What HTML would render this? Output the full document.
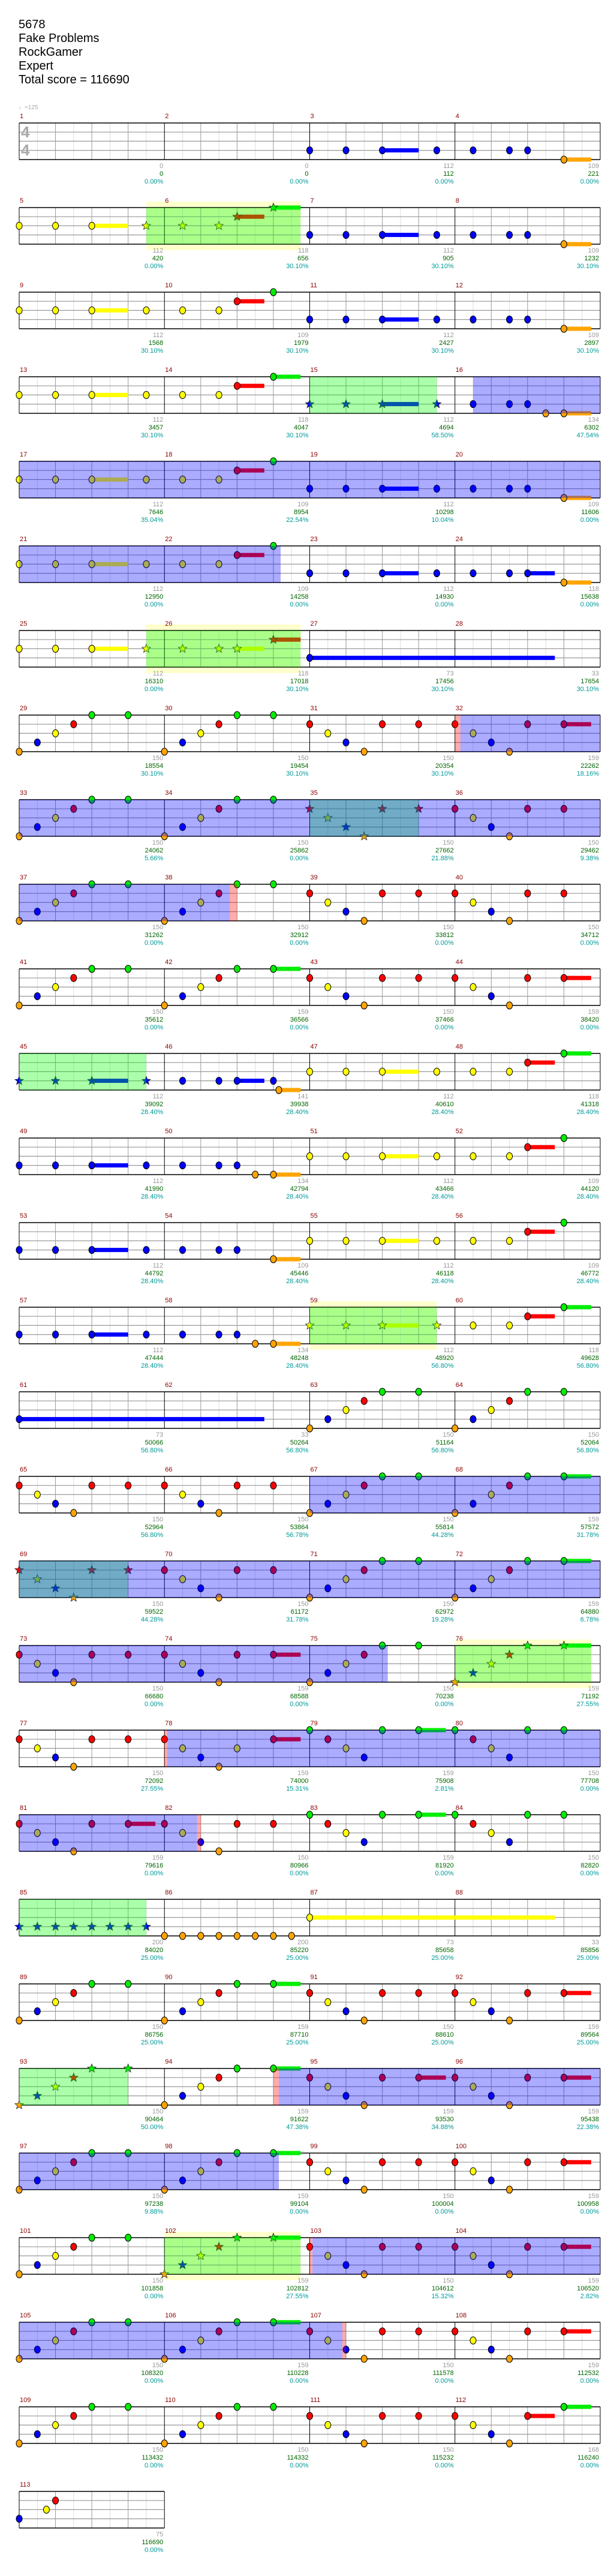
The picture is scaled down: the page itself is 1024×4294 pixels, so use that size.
<!DOCTYPE html>
<html><head><meta charset="utf-8">
<style>
html,body{margin:0;padding:0;background:#fff;}
body{width:1024px;height:4294px;position:relative;overflow:hidden;font-family:"Liberation Sans",sans-serif;}
#g{position:absolute;left:0;top:0;}
.t{position:absolute;left:31px;top:30px;font-size:20px;line-height:23px;color:#000;}
.tempo{position:absolute;left:31px;top:174px;font-size:10px;color:#aaa;}
.ts{position:absolute;left:35px;font-size:26px;line-height:26px;color:#aaa;font-weight:bold;}
.r{position:absolute;left:32px;width:969px;display:flex;font-size:11px;}
.c{width:242.25px;flex:none;position:relative;height:130px;}
.c b{position:absolute;left:1px;top:3px;line-height:12px;font-weight:normal;color:#8b0000;}
.c p{position:absolute;right:2px;top:86px;margin:0;text-align:right;line-height:13px;color:#999;white-space:nowrap;}
.c i{font-style:normal;color:#006400;}
.c u{text-decoration:none;color:#009999;}
</style></head><body>
<svg id="g" width="1024" height="4294" xmlns="http://www.w3.org/2000/svg"></svg>
<div class="t">5678<br>Fake Problems<br>RockGamer<br>Expert<br>Total score = 116690</div>
<div class="tempo">&#9833;=125</div>
<div class="ts" style="top:207px">4</div>
<div class="ts" style="top:237px">4</div>

<div class="r" style="top:185px"><div class="c"><b>1</b><p>0<br><i>0</i><br><u>0.00%</u></p></div><div class="c"><b>2</b><p>0<br><i>0</i><br><u>0.00%</u></p></div><div class="c"><b>3</b><p>112<br><i>112</i><br><u>0.00%</u></p></div><div class="c"><b>4</b><p>109<br><i>221</i><br><u>0.00%</u></p></div></div>
<div class="r" style="top:326px"><div class="c"><b>5</b><p>112<br><i>420</i><br><u>0.00%</u></p></div><div class="c"><b>6</b><p>118<br><i>656</i><br><u>30.10%</u></p></div><div class="c"><b>7</b><p>112<br><i>905</i><br><u>30.10%</u></p></div><div class="c"><b>8</b><p>109<br><i>1232</i><br><u>30.10%</u></p></div></div>
<div class="r" style="top:467px"><div class="c"><b>9</b><p>112<br><i>1568</i><br><u>30.10%</u></p></div><div class="c"><b>10</b><p>109<br><i>1979</i><br><u>30.10%</u></p></div><div class="c"><b>11</b><p>112<br><i>2427</i><br><u>30.10%</u></p></div><div class="c"><b>12</b><p>109<br><i>2897</i><br><u>30.10%</u></p></div></div>
<div class="r" style="top:608px"><div class="c"><b>13</b><p>112<br><i>3457</i><br><u>30.10%</u></p></div><div class="c"><b>14</b><p>118<br><i>4047</i><br><u>30.10%</u></p></div><div class="c"><b>15</b><p>112<br><i>4694</i><br><u>58.50%</u></p></div><div class="c"><b>16</b><p>134<br><i>6302</i><br><u>47.54%</u></p></div></div>
<div class="r" style="top:749px"><div class="c"><b>17</b><p>112<br><i>7646</i><br><u>35.04%</u></p></div><div class="c"><b>18</b><p>109<br><i>8954</i><br><u>22.54%</u></p></div><div class="c"><b>19</b><p>112<br><i>10298</i><br><u>10.04%</u></p></div><div class="c"><b>20</b><p>109<br><i>11606</i><br><u>0.00%</u></p></div></div>
<div class="r" style="top:890px"><div class="c"><b>21</b><p>112<br><i>12950</i><br><u>0.00%</u></p></div><div class="c"><b>22</b><p>109<br><i>14258</i><br><u>0.00%</u></p></div><div class="c"><b>23</b><p>112<br><i>14930</i><br><u>0.00%</u></p></div><div class="c"><b>24</b><p>118<br><i>15638</i><br><u>0.00%</u></p></div></div>
<div class="r" style="top:1031px"><div class="c"><b>25</b><p>112<br><i>16310</i><br><u>0.00%</u></p></div><div class="c"><b>26</b><p>118<br><i>17018</i><br><u>30.10%</u></p></div><div class="c"><b>27</b><p>73<br><i>17456</i><br><u>30.10%</u></p></div><div class="c"><b>28</b><p>33<br><i>17654</i><br><u>30.10%</u></p></div></div>
<div class="r" style="top:1172px"><div class="c"><b>29</b><p>150<br><i>18554</i><br><u>30.10%</u></p></div><div class="c"><b>30</b><p>150<br><i>19454</i><br><u>30.10%</u></p></div><div class="c"><b>31</b><p>150<br><i>20354</i><br><u>30.10%</u></p></div><div class="c"><b>32</b><p>159<br><i>22262</i><br><u>18.16%</u></p></div></div>
<div class="r" style="top:1313px"><div class="c"><b>33</b><p>150<br><i>24062</i><br><u>5.66%</u></p></div><div class="c"><b>34</b><p>150<br><i>25862</i><br><u>0.00%</u></p></div><div class="c"><b>35</b><p>150<br><i>27662</i><br><u>21.88%</u></p></div><div class="c"><b>36</b><p>150<br><i>29462</i><br><u>9.38%</u></p></div></div>
<div class="r" style="top:1454px"><div class="c"><b>37</b><p>150<br><i>31262</i><br><u>0.00%</u></p></div><div class="c"><b>38</b><p>150<br><i>32912</i><br><u>0.00%</u></p></div><div class="c"><b>39</b><p>150<br><i>33812</i><br><u>0.00%</u></p></div><div class="c"><b>40</b><p>150<br><i>34712</i><br><u>0.00%</u></p></div></div>
<div class="r" style="top:1595px"><div class="c"><b>41</b><p>150<br><i>35612</i><br><u>0.00%</u></p></div><div class="c"><b>42</b><p>159<br><i>36566</i><br><u>0.00%</u></p></div><div class="c"><b>43</b><p>150<br><i>37466</i><br><u>0.00%</u></p></div><div class="c"><b>44</b><p>159<br><i>38420</i><br><u>0.00%</u></p></div></div>
<div class="r" style="top:1736px"><div class="c"><b>45</b><p>112<br><i>39092</i><br><u>28.40%</u></p></div><div class="c"><b>46</b><p>141<br><i>39938</i><br><u>28.40%</u></p></div><div class="c"><b>47</b><p>112<br><i>40610</i><br><u>28.40%</u></p></div><div class="c"><b>48</b><p>118<br><i>41318</i><br><u>28.40%</u></p></div></div>
<div class="r" style="top:1877px"><div class="c"><b>49</b><p>112<br><i>41990</i><br><u>28.40%</u></p></div><div class="c"><b>50</b><p>134<br><i>42794</i><br><u>28.40%</u></p></div><div class="c"><b>51</b><p>112<br><i>43466</i><br><u>28.40%</u></p></div><div class="c"><b>52</b><p>109<br><i>44120</i><br><u>28.40%</u></p></div></div>
<div class="r" style="top:2018px"><div class="c"><b>53</b><p>112<br><i>44792</i><br><u>28.40%</u></p></div><div class="c"><b>54</b><p>109<br><i>45446</i><br><u>28.40%</u></p></div><div class="c"><b>55</b><p>112<br><i>46118</i><br><u>28.40%</u></p></div><div class="c"><b>56</b><p>109<br><i>46772</i><br><u>28.40%</u></p></div></div>
<div class="r" style="top:2159px"><div class="c"><b>57</b><p>112<br><i>47444</i><br><u>28.40%</u></p></div><div class="c"><b>58</b><p>134<br><i>48248</i><br><u>28.40%</u></p></div><div class="c"><b>59</b><p>112<br><i>48920</i><br><u>56.80%</u></p></div><div class="c"><b>60</b><p>118<br><i>49628</i><br><u>56.80%</u></p></div></div>
<div class="r" style="top:2300px"><div class="c"><b>61</b><p>73<br><i>50066</i><br><u>56.80%</u></p></div><div class="c"><b>62</b><p>33<br><i>50264</i><br><u>56.80%</u></p></div><div class="c"><b>63</b><p>150<br><i>51164</i><br><u>56.80%</u></p></div><div class="c"><b>64</b><p>150<br><i>52064</i><br><u>56.80%</u></p></div></div>
<div class="r" style="top:2441px"><div class="c"><b>65</b><p>150<br><i>52964</i><br><u>56.80%</u></p></div><div class="c"><b>66</b><p>150<br><i>53864</i><br><u>56.78%</u></p></div><div class="c"><b>67</b><p>150<br><i>55814</i><br><u>44.28%</u></p></div><div class="c"><b>68</b><p>159<br><i>57572</i><br><u>31.78%</u></p></div></div>
<div class="r" style="top:2582px"><div class="c"><b>69</b><p>150<br><i>59522</i><br><u>44.28%</u></p></div><div class="c"><b>70</b><p>150<br><i>61172</i><br><u>31.78%</u></p></div><div class="c"><b>71</b><p>150<br><i>62972</i><br><u>19.28%</u></p></div><div class="c"><b>72</b><p>159<br><i>64880</i><br><u>6.78%</u></p></div></div>
<div class="r" style="top:2723px"><div class="c"><b>73</b><p>150<br><i>66680</i><br><u>0.00%</u></p></div><div class="c"><b>74</b><p>159<br><i>68588</i><br><u>0.00%</u></p></div><div class="c"><b>75</b><p>150<br><i>70238</i><br><u>0.00%</u></p></div><div class="c"><b>76</b><p>159<br><i>71192</i><br><u>27.55%</u></p></div></div>
<div class="r" style="top:2864px"><div class="c"><b>77</b><p>150<br><i>72092</i><br><u>27.55%</u></p></div><div class="c"><b>78</b><p>159<br><i>74000</i><br><u>15.31%</u></p></div><div class="c"><b>79</b><p>159<br><i>75908</i><br><u>2.81%</u></p></div><div class="c"><b>80</b><p>150<br><i>77708</i><br><u>0.00%</u></p></div></div>
<div class="r" style="top:3005px"><div class="c"><b>81</b><p>159<br><i>79616</i><br><u>0.00%</u></p></div><div class="c"><b>82</b><p>150<br><i>80966</i><br><u>0.00%</u></p></div><div class="c"><b>83</b><p>159<br><i>81920</i><br><u>0.00%</u></p></div><div class="c"><b>84</b><p>150<br><i>82820</i><br><u>0.00%</u></p></div></div>
<div class="r" style="top:3146px"><div class="c"><b>85</b><p>200<br><i>84020</i><br><u>25.00%</u></p></div><div class="c"><b>86</b><p>200<br><i>85220</i><br><u>25.00%</u></p></div><div class="c"><b>87</b><p>73<br><i>85658</i><br><u>25.00%</u></p></div><div class="c"><b>88</b><p>33<br><i>85856</i><br><u>25.00%</u></p></div></div>
<div class="r" style="top:3287px"><div class="c"><b>89</b><p>150<br><i>86756</i><br><u>25.00%</u></p></div><div class="c"><b>90</b><p>159<br><i>87710</i><br><u>25.00%</u></p></div><div class="c"><b>91</b><p>150<br><i>88610</i><br><u>25.00%</u></p></div><div class="c"><b>92</b><p>159<br><i>89564</i><br><u>25.00%</u></p></div></div>
<div class="r" style="top:3428px"><div class="c"><b>93</b><p>150<br><i>90464</i><br><u>50.00%</u></p></div><div class="c"><b>94</b><p>159<br><i>91622</i><br><u>47.38%</u></p></div><div class="c"><b>95</b><p>159<br><i>93530</i><br><u>34.88%</u></p></div><div class="c"><b>96</b><p>159<br><i>95438</i><br><u>22.38%</u></p></div></div>
<div class="r" style="top:3569px"><div class="c"><b>97</b><p>150<br><i>97238</i><br><u>9.88%</u></p></div><div class="c"><b>98</b><p>159<br><i>99104</i><br><u>0.00%</u></p></div><div class="c"><b>99</b><p>150<br><i>100004</i><br><u>0.00%</u></p></div><div class="c"><b>100</b><p>159<br><i>100958</i><br><u>0.00%</u></p></div></div>
<div class="r" style="top:3710px"><div class="c"><b>101</b><p>150<br><i>101858</i><br><u>0.00%</u></p></div><div class="c"><b>102</b><p>159<br><i>102812</i><br><u>27.55%</u></p></div><div class="c"><b>103</b><p>150<br><i>104612</i><br><u>15.32%</u></p></div><div class="c"><b>104</b><p>159<br><i>106520</i><br><u>2.82%</u></p></div></div>
<div class="r" style="top:3851px"><div class="c"><b>105</b><p>150<br><i>108320</i><br><u>0.00%</u></p></div><div class="c"><b>106</b><p>159<br><i>110228</i><br><u>0.00%</u></p></div><div class="c"><b>107</b><p>150<br><i>111578</i><br><u>0.00%</u></p></div><div class="c"><b>108</b><p>159<br><i>112532</i><br><u>0.00%</u></p></div></div>
<div class="r" style="top:3992px"><div class="c"><b>109</b><p>150<br><i>113432</i><br><u>0.00%</u></p></div><div class="c"><b>110</b><p>150<br><i>114332</i><br><u>0.00%</u></p></div><div class="c"><b>111</b><p>150<br><i>115232</i><br><u>0.00%</u></p></div><div class="c"><b>112</b><p>168<br><i>116240</i><br><u>0.00%</u></p></div></div>
<div class="r" style="top:4133px"><div class="c"><b>113</b><p>75<br><i>116690</i><br><u>0.00%</u></p></div></div>

<script>
(function(){
var S="o0 b1 y2 r3 g4 g6 o8 b9 y10 r11 g12 ";
var D=[
[4,"b16 b18 b20-22 b23 b25 b27 b28 o30-31.5",""],
[4,"y0 y2 y4-6 y7* y9* y11* r12*-13.5 g14*-15.5 b16 b18 b20-22 b23 b25 b27 b28 o30-31.5","P7-15.5 G7-15.5"],
[4,"y0 y2 y4-6 y7 y9 y11 r12-13.5 g14 b16 b18 b20-22 b23 b25 b27 b28 o30-31.5",""],
[4,"y0 y2 y4-6 y7 y9 y11 r12-13.5 g14-15.5 b16* b18* b20*-22 b23* b25 b27 b28 o29 o30-31.5","G16-23 B25-32"],
[4,"y0 y2 y4-6 y7 y9 y11 r12-13.5 g14 b16 b18 b20-22 b23 b25 b27 b28 o30-31.5","B0-32"],
[4,"y0 y2 y4-6 y7 y9 y11 r12-13.5 g14 b16 b18 b20-22 b23 b25 b27 b28-29.5 o30-31.5","B0-14.4"],
[4,"y0 y2 y4-6 y7* y9* y11* y12*-13.5 r14*-15.5 b16-29.5","P7-15.5 G7-15.5"],
[4,S+"g14 r16 y17 b18 o19 r20 r22 r24 y25 b26 o27 r28 r30-31.5","K24-24.3 B24.3-32"],
[4,S+"g14 r16* y17* b18* o19* r20* r22* r24 y25 b26 o27 r28 r30","G16-22 B0-32"],
[4,S+"g14 r16 y17 b18 o19 r20 r22 r24 y25 b26 o27 r28 r30","B0-11.6 K11.6-12"],
[4,S+"g14-15.5 r16 y17 b18 o19 r20 r22 r24 y25 b26 o27 r28 r30-31.5",""],
[4,"b0* b2* b4*-6 b7* b9 b11 b12-13.5 b14 o14.3-15.5 y16 y18 y20-22 y23 y25 y27 r28-29.5 g30-31.5","G0-7"],
[4,"b0 b2 b4-6 b7 b9 b11 b12 o13 o14-15.5 y16 y18 y20-22 y23 y25 y27 r28-29.5 g30",""],
[4,"b0 b2 b4-6 b7 b9 b11 b12 o14-15.5 y16 y18 y20-22 y23 y25 y27 r28-29.5 g30",""],
[4,"b0 b2 b4-6 b7 b9 b11 b12 o13 o14-15.5 y16* y18* y20*-22 y23* y25 y27 r28-29.5 g30-31.5","P16-23 G16-23"],
[4,"b0-13.5 o16 b17 y18 r19 g20 g22 o24 b25 y26 r27 g28 g30",""],
[4,"r0 y1 b2 o3 r4 r6 r8 y9 b10 o11 r12 r14 o16 b17 y18 r19 g20 g22 o24 b25 y26 r27 g28 g30-31.5","B16-32"],
[4,"r0* y1* b2* o3* r4* r6* r8 y9 b10 o11 r12 r14 o16 b17 y18 r19 g20 g22 o24 b25 y26 r27 g28 g30-31.5","G0-6 B0-32"],
[4,"r0 y1 b2 o3 r4 r6 r8 y9 b10 o11 r12 r14-15.5 o16 b17 y18 r19 g20 g22 o24* b25* y26* r27* g28* g30*-31.5","B0-20.3 P24-31.5 G24-31.5"],
[4,"r0 y1 b2 o3 r4 r6 r8 y9 b10 o11 y12 r14-15.5 g16 r17 y18 b19 g20 g22-23.5 g24 r25 y26 b27 g28 g30","K8-8.15 B8.15-32"],
[4,"r0 y1 b2 o3 r4 r6-7.5 r8 y9 b10 o11 r12 r14 g16 r17 y18 b19 g20 g22-23.5 g24 r25 y26 b27 g28 g30","B0-9.8 K9.8-10"],
[4,"b0* b1* b2* b3* b4* b5* b6* b7* o8 o9 o10 o11 o12 o13 o14 o15 y16-29.5","G0-7"],
[4,S+"g14-15.5 r16 y17 b18 o19 r20 r22 r24 y25 b26 o27 r28 r30-31.5",""],
[4,"o0* b1* y2* r3* g4* g6* o8 b9 y10 r11 g12 g14-15.5 r16 y17 b18 o19 r20 r22-23.5 r24 y25 b26 o27 r28 r30-31.5","G0-6 K14-14.3 B14.3-32"],
[4,S+"g14-15.5 r16 y17 b18 o19 r20 r22 r24 y25 b26 o27 r28 r30-31.5","B0-14.3"],
[4,"o0 b1 y2 r3 g4 g6 o8* b9* y10* r11* g12* g14*-15.5 r16 y17 b18 o19 r20 r22 r24 y25 b26 o27 r28 r30-31.5","P8-15.5 G8-15.5 K16-16.15 B16.15-32"],
[4,S+"g14-15.5 r16 y17 b18 o19 r20 r22 r24 y25 b26 o27 r28 r30-31.5","B0-17.8 K17.8-18"],
[4,S+"g14 r16 y17 b18 o19 r20 r22 r24 y25 b26 o27 r28-29.5 g30-31.5",""],
[1,"b0 y1.5 r2",""]
];
var L=32,MW=242.25,U=MW/8,LY={g:0,r:15.2,y:30.4,b:45.6,o:61};
var COL={g:"#00ee00",r:"#ff0000",y:"#ffff00",b:"#0000ff",o:"#ffa500"};
var ORD={P:0,G:1,B:2,K:3};
function X(p){return L+p*U;}
function star(cx,cy,R,r){var s="";for(var k=0;k<10;k++){var a=-Math.PI/2+k*Math.PI/5,rr=k%2?r:R;s+=(cx+rr*Math.cos(a)).toFixed(1)+","+(cy+rr*Math.sin(a)).toFixed(1)+" ";}return s;}
var out="";
D.forEach(function(R,i){
 var T=205+141*i,n=R[0],W=n*MW,bg="",pin="",grid="",sus="",nt="",ov="";
 var ovs=R[2]?R[2].split(" "):[];
 ovs.sort(function(a,b){return ORD[a[0]]-ORD[b[0]];});
 ovs.forEach(function(o){var t=o[0],ab=o.slice(1).split("-"),a=X(+ab[0]),b=X(+ab[1]);
  if(t=="P"){bg+='<rect x="'+a+'" y="'+(T-10)+'" width="'+(b-a)+'" height="81" fill="#ffffcc"/>';pin+='<rect x="'+a+'" y="'+T+'" width="'+(b-a)+'" height="61" fill="#ffffcc"/>';}
  else{var c=t=="G"?"#00ff00":t=="B"?"#0000ff":"#ff0000";ov+='<rect x="'+a+'" y="'+T+'" width="'+(b-a)+'" height="61" fill="'+c+'" fill-opacity="0.33"/>';}
 });
 for(var k=0;k<=n*8;k++){var x=X(k),c=k%2==0?"#999":"#ddd";
  if(k%8!=0)grid+='<line x1="'+x+'" y1="'+T+'" x2="'+x+'" y2="'+(T+61)+'" stroke="'+c+'" stroke-width="1"/>';}
 [15.2,30.4,45.6].forEach(function(d){grid+='<line x1="'+L+'" y1="'+(T+d)+'" x2="'+(L+W)+'" y2="'+(T+d)+'" stroke="#999" stroke-width="1.2"/>';});
 for(var k=0;k<=n*8;k+=8){var x=X(k);grid+='<line x1="'+x+'" y1="'+T+'" x2="'+x+'" y2="'+(T+61)+'" stroke="#000" stroke-width="1"/>';}
 grid+='<line x1="'+L+'" y1="'+T+'" x2="'+(L+W)+'" y2="'+T+'" stroke="#000" stroke-width="1.5"/>';
 grid+='<line x1="'+L+'" y1="'+(T+61)+'" x2="'+(L+W)+'" y2="'+(T+61)+'" stroke="#000" stroke-width="1.5"/>';
 R[1].split(" ").forEach(function(s){
  var m=s.match(/^([gryob])([\d.]+)(\*)?(?:-([\d.]+))?$/);if(!m)return;
  var l=m[1],x=X(+m[2]),y=T+LY[l],c=COL[l];
  if(m[4])sus+='<rect x="'+x+'" y="'+(y-3.5)+'" width="'+(X(+m[4])-x)+'" height="7" fill="'+c+'"/>';
  if(m[3])nt+='<polygon points="'+star(x,y,7.5,3.2)+'" fill="'+c+'" stroke="#222" stroke-width="0.8"/>';
  else nt+='<ellipse cx="'+x+'" cy="'+y+'" rx="5" ry="6" fill="'+c+'" stroke="#000" stroke-width="1"/>';
 });
 out+=bg+'<rect x="'+L+'" y="'+T+'" width="'+W+'" height="61" fill="#fff"/>'+pin+grid+sus+nt+ov;
});
document.getElementById("g").innerHTML=out;
})();
</script>
</body></html>
